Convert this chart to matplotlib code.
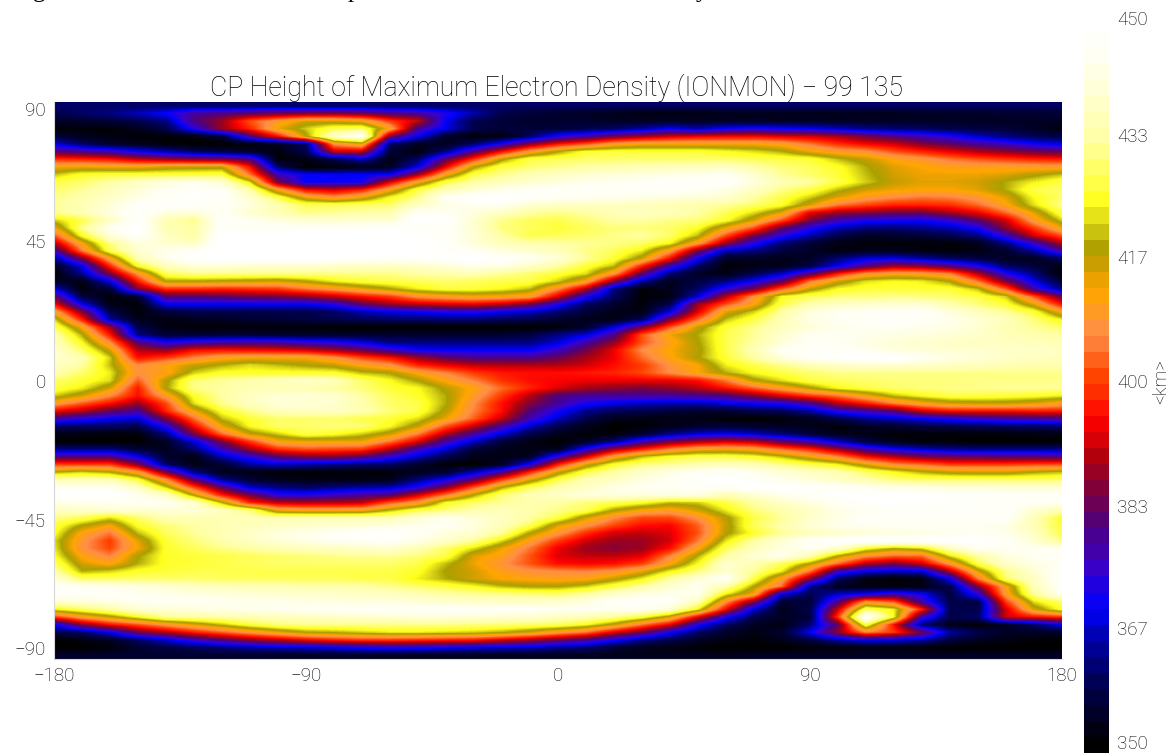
import numpy as np
import matplotlib
matplotlib.use("Agg")
import matplotlib.pyplot as plt
from matplotlib.colors import LinearSegmentedColormap

lons = list(range(-180, 181, 10))
lon_ticks = [-180, -90, 0, 90, 180]
lat_ticks = [90, 45, 0, -45, -90]
cbar_pos = [350.4, 366.1, 382.9, 400.1, 417.1, 433.9, 450]
cbar_labels = ["350", "367", "383", "400", "417", "433", "450"]
title = "CP Height of Maximum Electron Density (IONMON) \u2212 99 135"

# Height in km, rows from 90N to 90S (2.5 deg), columns from 180W to 180E (10 deg)
height = [
[360]*37,
[358,360,362,366,370,378,380,382,384,386,386,384,380,378,372,365,358,356,355,354,353,352,352,352,353,353,353,353,353,353,353,354,354,354,355,355,356],
[354,355,356,358,362,380,388,402,410,416,416,413,400,392,369,358,356,355,355,355,354,354,354,354,354,354,354,354,354,354,354,354,354,354,354,354,354],
[351,351,351,353,358,372,388,398,414,422,428,430,412,378,368,358,356,356,356,358,360,364,369,365,370,372,370,369,366,363,361,360,358,357,356,354,352],
[356,353,352,351,351,352,356,380,396,418,440,447,385,369,355,351,352,360,372,377,384,388,392,394,395,395,393,392,389,384,380,376,372,366,362,359,357],
[368,360,355,353,351,350,350,351,354,360,408,415,360,354,353,360,372,386,396,402,410,413,413,413,413,413,411,405,399,395,392,386,382,378,375,370,368],
[381,379,376,370,365,360,357,355,351,358,391,391,356,351,362,380,396,410,419,426,427,427,427,427,425,423,420,414,410,408,402,398,394,390,387,384,382],
[399,398,396,391,388,386,385,380,351,352,358,366,352,360,382,399,418,428,429,430,430,430,430,430,430,429,428,427,421,417,412,409,405,402,400,398,397],
[413,414,413,413,416,417,417,396,360,350,351,352,354,368,394,418,428,430,432,434,435,436,437,437,438,434,431,429,426,420,415,413,411,411,411,410,410],
[421,426,427,427,427,427,428,405,376,369,369,369,369,388,412,428,432,436,438,440,441,442,443,444,445,440,433,430,427,421,416,414,414,414,415,418,421],
[428,430,434,438,442,444,440,423,385,369,370,370,393,412,428,434,437,440,442,444,445,446,447,447,448,442,436,434,428,422,417,415,415,416,420,424,428],
[430,433,437,441,445,447,447,435,412,395,392,397,412,428,436,440,444,446,447,447,447,447,447,446,443,438,432,428,421,416,414,413,413,415,420,428,430],
[432,435,439,443,447,449,447,440,428,414,408,414,425,432,446,449,450,448,446,445,444,443,442,441,440,434,428,422,415,410,407,405,406,409,415,425,430],
[433,436,441,447,448,447,446,442,436,429,429,430,430,438,443,445,445,440,438,438,438,437,436,435,433,430,426,416,405,401,398,398,399,404,412,423,432],
[432,436,442,449,442,441,446,440,436,432,433,434,435,447,445,442,438,434,432,434,436,438,437,434,429,423,415,394,388,386,384,384,389,394,404,415,428],
[422,428,438,448,436,432,448,445,442,440,440,440,440,450,449,440,432,429,428,431,434,434,432,431,426,416,402,385,376,372,371,370,374,382,392,410,422],
[413,432,445,450,436,434,447,446,447,447,447,447,448,447,446,440,431,429,427,429,431,431,430,426,414,402,383,372,365,362,361,363,365,371,387,400,414],
[402,426,441,448,438,434,450,450,450,450,450,450,450,449,447,441,434,428,429,430,432,434,430,421,402,385,373,365,358,354,355,356,358,362,375,392,402],
[390,413,432,442,440,438,450,450,450,450,450,450,450,450,447,441,437,435,434,433,432,430,425,410,388,372,361,356,352,351,351,351,351,353,362,375,390],
[376,405,428,440,444,447,450,450,450,450,450,450,450,450,448,446,442,440,437,432,429,424,410,385,365,362,357,354,352,353,353,352,351,352,355,364,378],
[362,385,411,436,444,449,450,450,450,450,449,448,447,448,449,450,448,445,441,433,427,417,396,370,354,354,353,354,361,367,368,364,360,357,354,353,360],
[353,368,398,426,437,441,441,440,440,440,439,438,438,439,441,444,443,439,434,427,421,398,376,360,351,352,353,357,369,380,388,386,380,372,360,356,352],
[350,363,385,408,429,432,432,432,432,432,432,432,432,434,435,436,433,430,427,423,409,382,361,354,352,358,366,380,397,408,411,410,406,390,372,362,350],
[354,352,368,397,419,419,418,417,416,419,424,427,428,429,430,429,428,428,422,412,386,364,353,357,362,370,381,405,416,423,425,424,419,405,385,368,356],
[368,351,356,385,399,399,398,399,400,405,409,414,419,424,427,427,425,421,407,390,362,351,353,360,373,384,403,417,425,427,427,427,427,421,403,377,362],
[383,357,351,355,381,381,382,384,385,387,391,396,400,408,411,413,412,410,393,372,360,351,352,367,390,408,425,429,431,431,432,431,430,428,422,402,383],
[396,369,352,351,369,369,369,369,369,369,373,382,388,391,393,394,391,385,372,360,355,351,358,388,402,412,428,435,438,439,440,440,435,431,427,415,396],
[412,386,358,351,356,358,358,358,358,358,360,365,368,370,372,372,369,366,361,356,353,352,368,393,415,422,434,442,445,446,447,447,442,437,433,427,412],
[423,398,364,353,352,353,354,355,356,357,358,359,360,360,361,361,359,358,355,353,352,359,385,404,421,428,436,443,445,447,448,446,444,441,437,431,424],
[430,413,388,358,352,351,351,351,351,351,350,350,350,350,350,350,350,350,351,355,367,384,402,417,427,432,437,441,444,445,445,444,443,440,436,433,430],
[436,420,397,362,356,356,356,356,355,355,355,355,355,355,355,355,355,357,362,367,379,402,414,420,428,433,440,445,445,444,443,442,441,439,437,435,434],
[438,425,407,381,371,375,377,378,377,374,372,368,362,362,362,362,362,362,367,377,387,402,411,419,428,434,441,446,445,443,441,440,439,438,438,437,436],
[440,430,416,390,387,395,396,395,394,392,388,383,376,370,369,369,369,369,375,384,394,407,413,418,428,436,446,448,447,445,442,441,440,440,439,439,438],
[440,436,422,396,400,406,411,413,413,413,408,401,396,388,382,379,379,379,383,389,394,404,412,419,427,434,442,447,449,450,450,446,443,441,439,438,437],
[438,434,421,407,412,417,420,423,421,419,417,412,408,398,394,391,390,390,390,392,396,400,408,413,424,428,432,436,438,440,440,439,438,437,436,435,435],
[436,430,424,408,411,422,426,426,426,426,426,421,419,412,406,400,397,396,396,397,398,401,407,413,420,425,428,430,432,432,432,432,432,432,432,432,432],
[430,427,423,403,418,431,433,435,437,439,437,430,425,419,412,406,399,396,395,394,394,394,394,396,405,418,423,428,429,430,431,431,431,432,432,432,432],
[428,424,416,397,419,432,434,436,436,436,434,431,427,425,418,412,404,398,393,389,387,385,387,390,396,403,411,418,425,428,430,431,432,432,433,433,433],
[422,416,407,396,410,426,434,438,441,441,440,434,429,426,420,410,400,390,380,378,378,378,378,379,380,386,393,400,405,413,421,425,428,428,427,426,424],
[410,403,396,388,401,423,432,438,441,441,440,435,430,428,420,407,396,386,378,371,368,366,365,365,368,370,372,378,390,397,406,412,416,417,417,415,411],
[395,390,383,378,398,414,426,432,437,438,438,436,431,428,418,406,396,381,371,363,359,358,356,355,355,358,359,364,373,377,381,392,396,396,396,397,397],
[378,373,369,367,385,404,421,427,430,430,430,428,427,423,414,403,391,376,366,358,353,352,352,352,351,350,351,353,358,363,366,369,372,375,377,378,379],
[360,360,360,358,372,395,414,425,430,430,431,431,425,417,402,391,378,366,358,353,350,351,353,355,356,355,354,353,351,354,355,357,358,359,360,360,361],
[352,352,351,351,362,385,404,417,422,428,426,422,417,406,390,378,367,358,353,351,351,355,362,367,369,366,361,356,353,352,351,351,351,351,351,352,352],
[350,350,350,350,354,367,385,400,413,414,414,414,405,393,377,366,356,352,350,354,362,376,384,389,392,390,382,376,366,357,353,351,351,350,350,350,350],
[362,362,362,356,353,361,375,388,399,402,401,400,390,376,367,356,353,352,353,372,388,397,406,412,413,411,404,398,388,377,370,366,363,362,362,362,362],
[380,380,380,369,355,352,365,373,381,385,386,382,374,366,358,353,352,354,375,393,411,421,426,428,428,426,421,414,407,396,390,385,383,382,381,381,380],
[400,400,400,386,360,352,355,364,367,365,363,361,360,355,351,350,354,371,397,415,426,431,433,435,437,436,432,428,424,415,407,404,400,400,400,401,401],
[419,422,419,410,385,362,353,352,351,351,351,351,351,353,355,365,378,398,416,428,434,439,443,446,447,444,441,438,436,430,425,420,417,416,416,419,421],
[436,436,436,427,408,382,363,356,353,352,352,352,353,362,370,382,400,415,428,436,438,442,445,448,450,447,444,441,438,435,431,430,430,430,430,430,430],
[445,445,445,438,422,401,382,366,362,360,362,364,365,372,385,402,419,429,435,438,443,445,446,447,447,449,450,448,447,445,443,442,441,441,440,440,440],
[450,450,450,445,439,418,397,384,373,372,375,378,380,392,405,419,431,436,439,442,442,442,442,442,436,440,444,447,449,450,449,449,448,448,447,447,447],
[443,444,445,445,445,440,420,398,391,390,390,391,402,409,425,430,433,435,434,431,429,426,421,422,428,434,439,442,446,448,450,449,448,447,447,446,445],
[438,439,440,440,441,441,438,431,413,411,411,412,420,428,431,435,437,435,432,429,419,413,411,416,424,431,435,439,443,445,446,447,447,447,447,440,436],
[432,429,423,430,436,436,436,436,436,436,436,436,436,440,444,441,438,434,428,416,407,401,401,408,418,428,433,439,443,447,447,447,447,447,447,437,426],
[428,419,413,426,431,434,436,437,438,439,440,441,442,444,446,442,437,429,415,408,401,396,395,403,417,429,435,441,444,445,445,445,445,445,443,436,427],
[426,412,405,421,429,433,436,439,442,444,446,448,450,446,442,440,433,419,409,399,392,391,393,402,418,426,433,437,439,441,442,443,444,445,444,438,428],
[423,409,400,415,427,431,435,438,441,443,445,446,447,443,439,433,423,411,400,392,388,388,392,405,423,434,441,447,449,450,450,450,450,450,447,440,432],
[424,408,401,413,426,429,432,434,436,437,438,439,440,436,430,423,414,405,394,388,386,388,396,412,429,437,442,445,440,426,420,423,437,445,445,445,445],
[426,412,406,419,426,427,428,429,430,431,432,433,433,431,428,415,411,402,393,391,391,393,406,420,434,441,445,436,419,408,404,404,423,434,442,445,447],
[430,416,412,420,426,427,428,429,430,430,430,430,430,428,421,414,408,402,396,395,396,400,412,425,440,436,429,419,404,390,385,392,409,428,439,443,445],
[435,420,422,426,427,428,428,428,428,428,428,428,428,426,419,416,411,408,407,406,408,414,424,431,440,433,424,405,376,368,366,367,390,416,432,440,447],
[442,430,430,430,430,430,429,429,429,429,429,428,428,424,420,416,413,412,411,412,417,424,434,441,447,428,410,386,360,352,350,352,369,405,430,438,448],
[448,446,444,442,440,438,437,436,436,435,435,435,432,430,428,425,421,419,419,422,428,434,440,445,435,419,404,363,353,352,352,352,358,385,412,437,447],
[447,447,446,445,444,443,442,441,440,440,439,438,438,436,434,433,432,431,430,434,439,443,444,444,424,413,368,358,366,370,376,370,356,373,410,433,445],
[440,441,443,445,445,445,445,444,444,443,443,442,442,441,440,439,439,439,440,443,446,448,447,437,408,385,355,356,379,408,402,376,358,357,400,423,430],
[424,429,434,440,441,442,443,444,445,445,446,446,447,447,447,447,446,446,445,445,445,445,440,424,395,367,353,358,392,430,424,398,358,358,392,416,426],
[400,410,417,425,433,434,435,436,437,438,439,440,440,441,441,441,440,440,438,436,433,427,416,394,372,358,354,356,400,450,425,376,358,360,392,396,399],
[369,386,396,402,409,415,421,427,431,432,432,432,432,432,432,431,431,430,429,425,417,405,394,372,360,354,352,361,382,429,396,361,353,351,354,360,369],
[358,360,369,384,390,397,403,409,414,419,420,422,424,424,423,422,420,416,410,405,393,384,371,360,355,352,355,369,387,406,400,384,364,358,354,354,355],
[350,352,354,360,367,375,381,387,391,395,398,400,400,399,398,397,393,389,384,379,371,363,358,354,352,351,353,357,365,369,368,365,357,354,352,351,350],
[350,350,351,355,357,359,361,364,366,367,369,371,373,372,370,368,367,366,363,361,356,353,352,351,350,350,350,351,351,352,352,351,350,350,350,350,350],
[355,355,355,355,355,355,355,355,354,354,354,354,353,353,353,353,353,353,353,353,353,353,353,353,353,354,354,354,354,354,354,354,354,354,354,354,354],
]

cmap_nodes = [
    (0.00, (0, 0, 0)), (0.08, (0, 0, 0.30)), (0.14, (0, 0, 0.62)), (0.19, (0, 0, 1)),
    (0.24, (0.22, 0, 0.80)), (0.30, (0.30, 0, 0.50)), (0.35, (0.48, 0, 0.25)),
    (0.40, (0.70, 0, 0.05)), (0.45, (1, 0, 0)), (0.51, (1, 0.27, 0)), (0.57, (1, 0.56, 0.28)),
    (0.63, (1, 0.65, 0)), (0.665, (0.80, 0.62, 0)), (0.695, (0.67, 0.63, 0)),
    (0.725, (0.86, 0.84, 0.10)), (0.75, (1, 1, 0.1)), (0.84, (1, 1, 0.65)), (0.95, (1, 1, 0.95)), (1.00, (1, 1, 1)),
]
cmap = LinearSegmentedColormap.from_list("ionmon", cmap_nodes, N=256)

W, H = 1176, 753
plt.rcParams["font.family"] = ["Roboto", "DejaVu Sans"]
ink = "black"
fig = plt.figure(figsize=(W / 100, H / 100), dpi=100)

ax = fig.add_axes([54 / W, 1 - 659 / H, 1008 / W, 557 / H])
z = np.array(height, dtype=float)
ax.imshow(z, cmap=cmap, vmin=350, vmax=450, aspect="auto",
          extent=(lons[0] - 5, lons[-1] + 5, -90, 90),
          interpolation="bilinear", interpolation_stage="data")
ax.set_xlim(-180, 180)
ax.set_ylim(-90, 90)
ax.set_xticks(lon_ticks)
ax.set_xticklabels([str(v).replace("-", "\u2212") for v in lon_ticks], fontsize=13.5, color=ink, fontweight="light")
ax.set_yticks(lat_ticks)
ax.set_yticklabels([str(v).replace("-", "\u2212") for v in lat_ticks], fontsize=13.5, color=ink, fontweight="light")
ax.tick_params(length=0, pad=6, labelcolor=ink)
ax.get_yticklabels()[0].set_va("top")
ax.get_yticklabels()[-1].set_va("bottom")
for s in ax.spines.values():
    s.set_color("#d8d8d8")
    s.set_linewidth(0.8)
ax.spines["top"].set_visible(False)
ax.spines["right"].set_visible(False)

fig.text(557 / W, 1 - 88 / H, title, ha="center", va="center", fontsize=19.2, fontweight="light", color=ink)

cax = fig.add_axes([1084 / W, 0, 25 / W, 738 / H])
levels = np.linspace(450, 350, 46)[:, None]
cax.imshow(levels, cmap=cmap, vmin=350, vmax=450, aspect="auto",
           extent=(0, 1, 348.9, 450.4), interpolation="nearest")
cax.set_ylim(348.9, 450.4)
cax.set_xticks([])
cax.yaxis.tick_right()
cax.set_yticks(cbar_pos)
cax.set_yticklabels(cbar_labels, fontsize=13.5, color=ink, fontweight="light")
cax.tick_params(length=0, pad=6, labelcolor=ink)
for s in cax.spines.values():
    s.set_visible(False)
fig.text(1161 / W, 1 - 381 / H, "<km>", rotation=90, ha="center", va="center", fontsize=13.5, fontweight="light", color=ink)

# Cut-off line of the surrounding document at the top edge
for x_px, glyph in [(39, "g"), (354, "p"), (702, "y")]:
    fig.text(x_px / W, 1 + 3 / H, glyph, ha="center", va="baseline", fontsize=18,
             family="Liberation Serif", color="black", clip_on=False)

fig.savefig("out.png", dpi=100)
